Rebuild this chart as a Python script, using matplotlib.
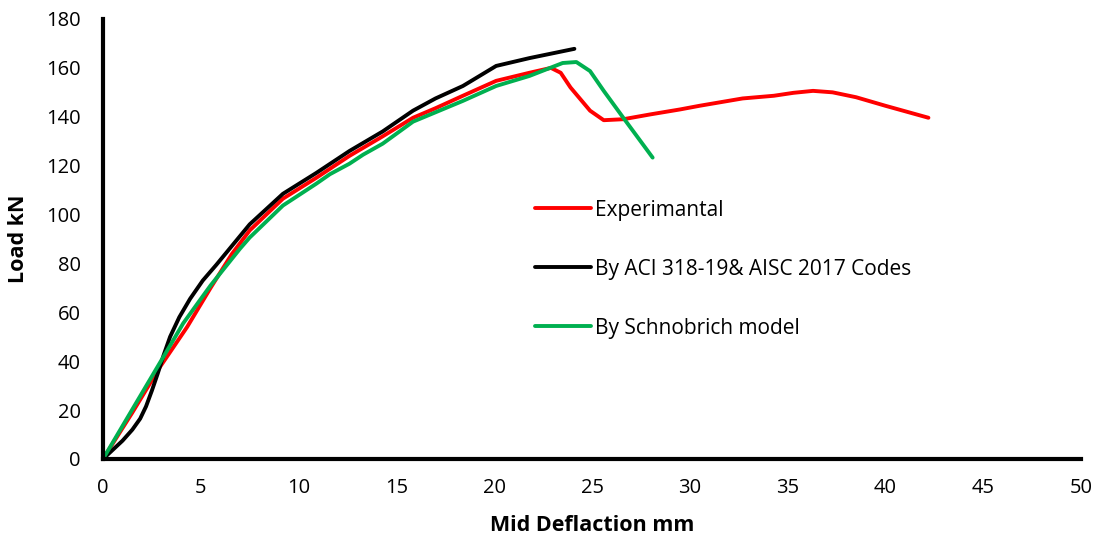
import matplotlib.pyplot as plt

plt.rcParams['font.family'] = ['Open Sans', 'DejaVu Sans']

# Experimental curve
exp_x = [0, 1.5, 2.9, 4.3, 5.5, 6.6, 7.5, 9.2, 10.9, 12.6, 14.3, 15.85, 17.0,
         18.4, 20.1, 21.8, 22.9, 23.4, 23.9, 24.9, 25.6, 26.6, 28.0, 29.5,
         30.5, 32.7, 34.3, 35.3, 36.3, 37.3, 38.5, 40.0, 42.2]
exp_y = [0, 19, 37.5, 54, 70, 84, 93.5, 106.5, 115, 124, 132, 139.6, 143.5,
         148.6, 154.7, 158, 160, 158, 152, 142.5, 138.6, 139, 141, 143,
         144.5, 147.5, 148.6, 149.8, 150.6, 150, 148, 144.5, 139.6]

# ACI 318-19 & AISC 2017
aci_x = [0, 1, 1.5, 1.9, 2.2, 2.5, 2.8, 3.1, 3.43, 3.9, 4.45, 5.1, 5.8, 7.5,
         9.2, 10.9, 12.6, 14.3, 15.85, 17.0, 18.4, 20.1, 21.8, 24.1]
aci_y = [0, 7.5, 12, 16.5, 21.5, 28, 35, 42.5, 50, 58, 65.5, 73, 79.5, 96,
         108.5, 117, 126, 134, 142.5, 147.5, 152.6, 160.8, 164, 167.8]

# Schnobrich model
sch_x = [0, 3.4, 4.1, 5.5, 7.0, 7.5, 9.2, 10.9, 11.6, 12.6, 13.3, 14.3, 15.85,
         18.4, 20.1, 21.8, 23.5, 24.2, 24.9, 25.6, 26.6, 28.1]
sch_y = [0, 46, 55.5, 71, 86, 90.6, 103.7, 112.6, 116.5, 120.8, 124.5, 129, 138,
         146.5, 152.6, 156.7, 162, 162.4, 158.7, 150.6, 139.6, 123.3]

fig = plt.figure(figsize=(10.97, 5.4), dpi=100)
ax = fig.add_axes([103/1097, 1-459/540, (1081-103)/1097, (459-19)/540])

style = dict(lw=2.8, solid_joinstyle='round', solid_capstyle='round')
ax.plot(exp_x, exp_y, color='#FF0000', label='Experimantal', **style)
ax.plot(aci_x, aci_y, color='black', label='By ACI 318-19& AISC 2017 Codes', **style)
ax.plot(sch_x, sch_y, color='#00B050', label='By Schnobrich model', **style)

ax.set_xlim(0, 50)
ax.set_ylim(0, 180)
ax.set_xticks(range(0, 51, 5))
ax.set_yticks(range(0, 181, 20))
for s in ['top', 'right']:
    ax.spines[s].set_visible(False)
for s in ['left', 'bottom']:
    ax.spines[s].set_linewidth(3)
ax.tick_params(length=0, labelsize=14.5)
ax.tick_params(axis='y', pad=16)
ax.tick_params(axis='x', pad=14)

ax.set_xlabel('Mid Deflaction mm', fontsize=15.5, fontweight='bold', labelpad=12)
ax.set_ylabel('Load kN', fontsize=15.5, fontweight='bold', labelpad=12)

ax.legend(loc='upper left', bbox_to_anchor=(0.423, 0.632), frameon=False,
          fontsize=15, labelspacing=1.82, handlelength=2.65, handletextpad=0.2)

plt.savefig('out.png', dpi=100)
plt.close()
